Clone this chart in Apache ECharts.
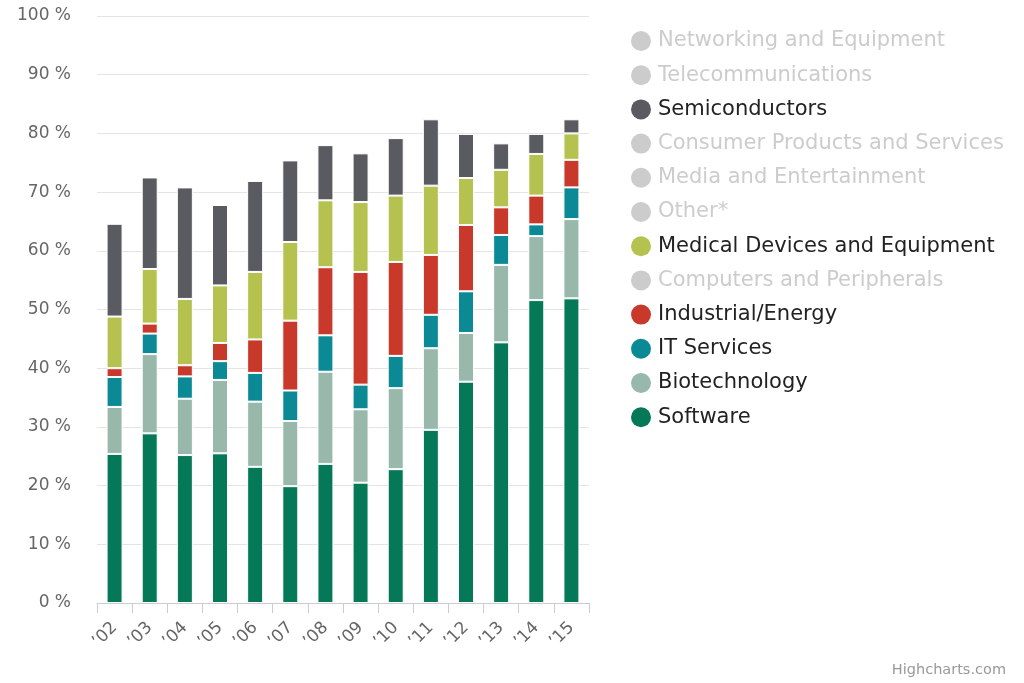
<!DOCTYPE html>
<html>
<head>
<meta charset="utf-8">
<script src="https://cdn.jsdelivr.net/npm/echarts@6/dist/echarts.min.js"></script>
<style>
html,body{margin:0;padding:0;background:#fff;}
#c{width:1024px;height:683px;}
</style>
</head>
<body>
<div id="c"></div>
<script>
var years = ["’02","’03","’04","’05","’06","’07","’08","’09","’10","’11","’12","’13","’14","’15"];
var yTicks = [0,10,20,30,40,50,60,70,80,90,100];

var software      = [25.4,28.9,25.2,25.5,23.2,19.9,23.7,20.5,22.8,29.5,37.7,44.4,51.6,51.9];
var biotechnology = [8.0,13.5,9.6,12.5,11.1,11.1,15.7,12.5,13.8,13.9,8.3,13.2,10.9,13.5];
var itServices    = [5.1,3.5,3.8,3.2,4.9,5.2,6.2,4.2,5.5,5.7,7.1,5.1,2.0,5.4];
var industrial    = [1.5,1.7,1.9,3.1,5.7,11.9,11.6,19.2,16.0,10.2,11.3,4.7,4.9,4.7];
var medical       = [8.8,9.3,11.3,9.8,11.5,13.4,11.4,11.9,11.3,11.8,8.0,6.4,7.1,4.5];
var semis         = [15.8,15.6,19.0,13.7,15.5,13.9,9.4,8.3,9.8,11.3,7.5,4.5,3.4,2.4];
var computers     = [];
var other         = [];
var media         = [];
var consumer      = [];
var telecom       = [];
var networking    = [];

var legendOrder = ["Networking and Equipment","Telecommunications","Semiconductors","Consumer Products and Services","Media and Entertainment","Other*","Medical Devices and Equipment","Computers and Peripherals","Industrial/Energy","IT Services","Biotechnology","Software"];

// bottom to top stacking order
var stackDefs = [
  ["Software", software, "#047857"],
  ["Biotechnology", biotechnology, "#97b8aa"],
  ["IT Services", itServices, "#0b8a95"],
  ["Industrial/Energy", industrial, "#c8392b"],
  ["Computers and Peripherals", computers, "#8888aa"],
  ["Medical Devices and Equipment", medical, "#b5c24f"],
  ["Other*", other, "#aaaaaa"],
  ["Media and Entertainment", media, "#999999"],
  ["Consumer Products and Services", consumer, "#888888"],
  ["Semiconductors", semis, "#5a5a61"],
  ["Telecommunications", telecom, "#777777"],
  ["Networking and Equipment", networking, "#666666"]
];
var hidden = ["Networking and Equipment","Telecommunications","Consumer Products and Services","Media and Entertainment","Other*","Computers and Peripherals"];
var selected = {};
hidden.forEach(function(n){selected[n]=false;});

var series = stackDefs.map(function(d){
  return {
    name: d[0], type: 'bar', stack: 'total', data: d[1],
    barWidth: 16,
    itemStyle: {color: d[2], borderColor: '#ffffff', borderWidth: 1},
    emphasis: {disabled: true}
  };
});

var chart = echarts.init(document.getElementById('c'), null, {renderer: 'canvas'});
chart.setOption({
  animation: false,
  backgroundColor: '#ffffff',
  grid: {left: 97, right: 435, top: 16, bottom: 80, containLabel: false},
  legend: {
    orient: 'vertical', left: 626, top: 24,
    data: legendOrder,
    selected: selected,
    icon: 'circle', itemWidth: 20, itemHeight: 20, itemGap: 10.2,
    inactiveColor: '#cccccc',
    inactiveBorderColor: '#cccccc',
    inactiveBorderWidth: 0,
    itemStyle: {borderWidth: 0},
    textStyle: {fontSize: 21, lineHeight: 24, color: '#222222', fontFamily: 'DejaVu Sans', padding: [0,0,0,2]},
    selectedMode: true
  },
  xAxis: {
    type: 'category', data: years,
    axisLine: {lineStyle: {color: '#cccccc', width: 1}},
    axisTick: {show: true, length: 10, lineStyle: {color: '#cccccc'}},
    axisLabel: {rotate: 45, fontSize: 17, color: '#666666', fontFamily: 'DejaVu Sans', margin: 22}
  },
  yAxis: {
    type: 'value', min: yTicks[0], max: yTicks[yTicks.length-1], interval: 10,
    axisLine: {show: false}, axisTick: {show: false},
    splitLine: {lineStyle: {color: '#e4e4e4', width: 1}},
    axisLabel: {formatter: '{value} %', fontSize: 17, color: '#666666', fontFamily: 'DejaVu Sans', margin: 26}
  },
  graphic: [{
    type: 'text', right: 18, bottom: 5,
    style: {text: 'Highcharts.com', fontSize: 14.5, fill: '#999999', fontFamily: 'DejaVu Sans'}
  }],
  series: series
});
</script>
</body>
</html>
